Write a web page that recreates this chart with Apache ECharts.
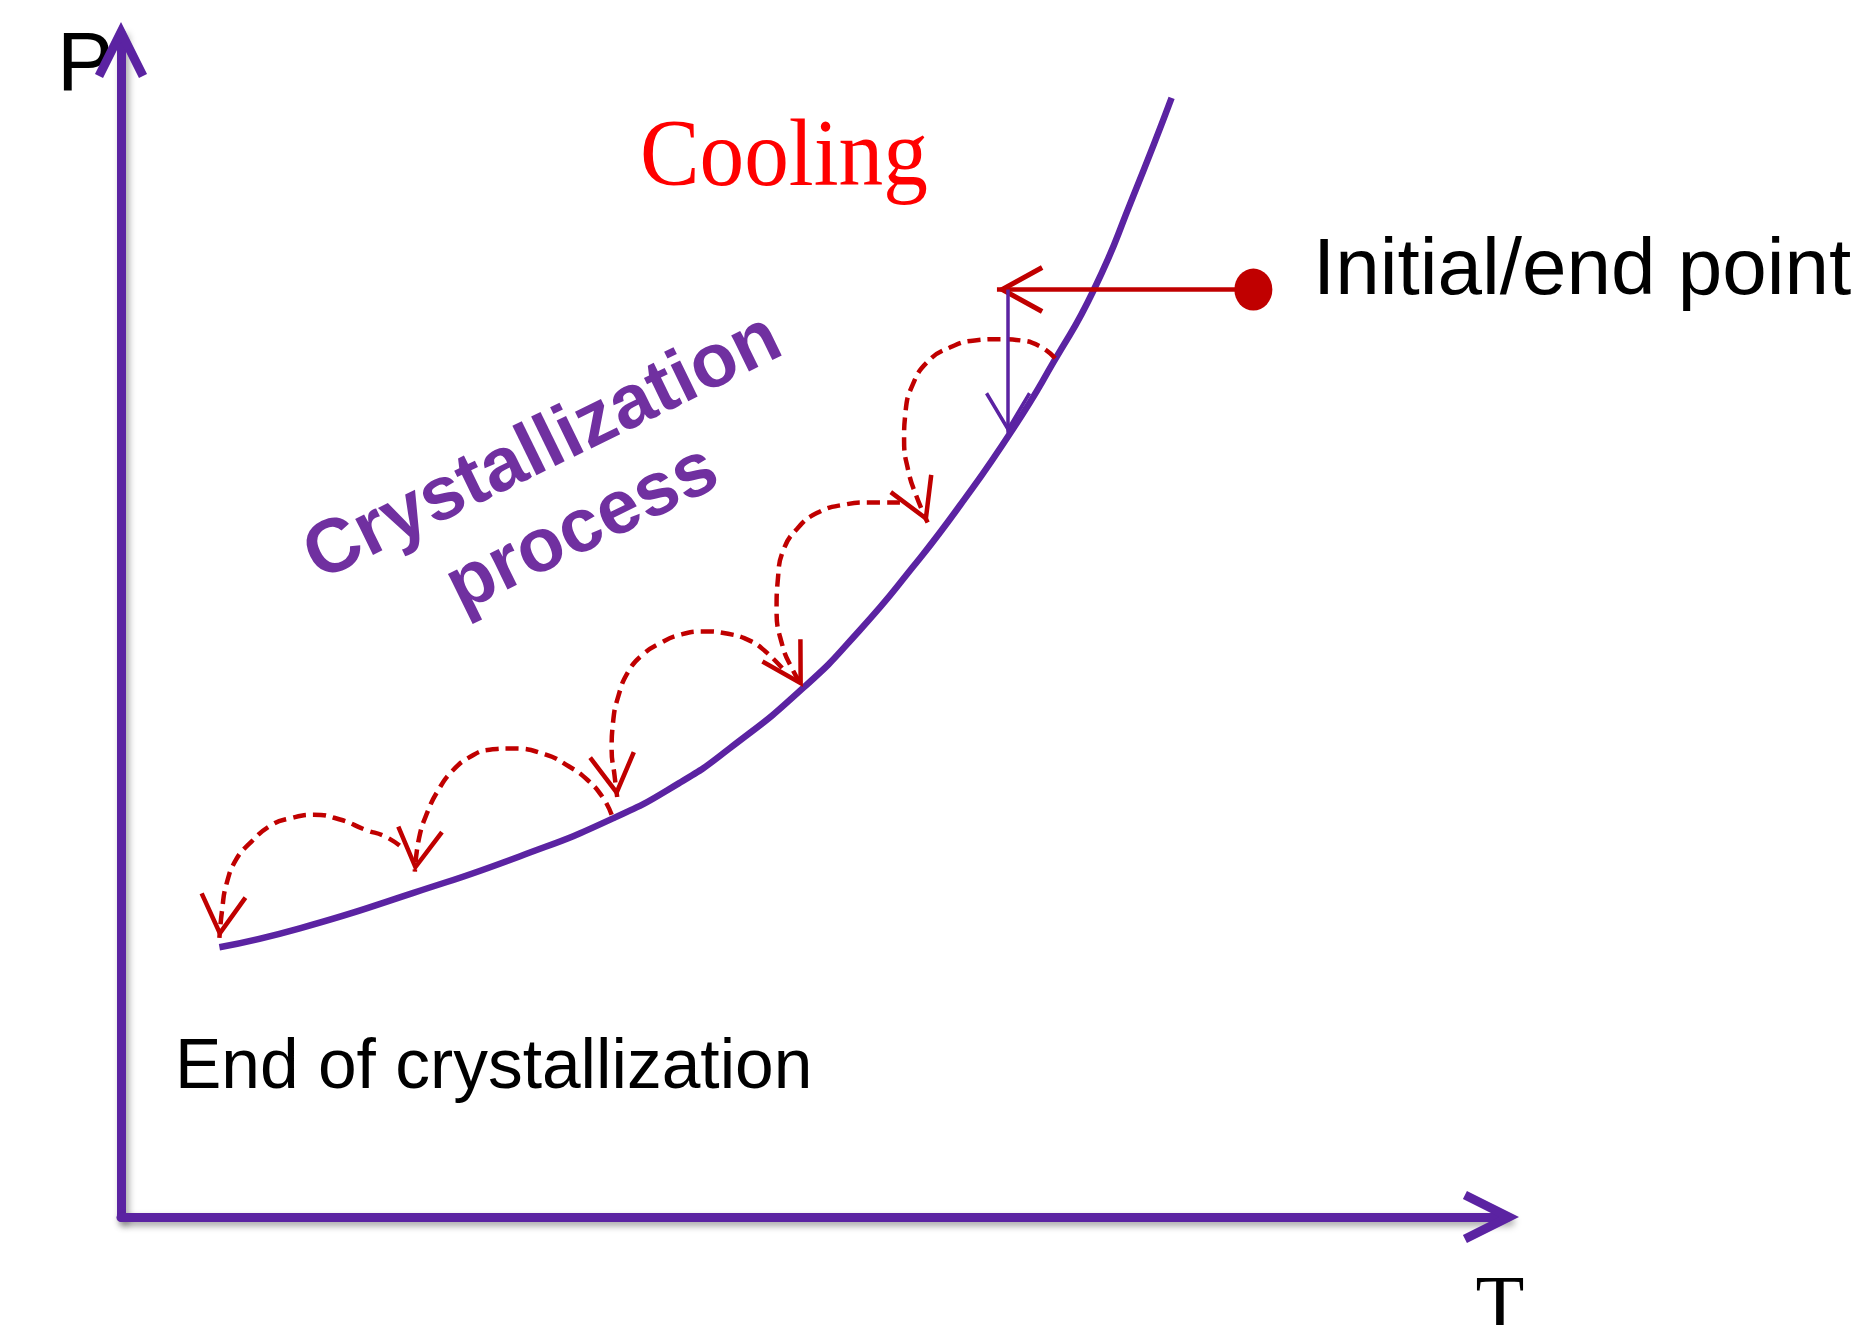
<!DOCTYPE html>
<html>
<head>
<meta charset="utf-8">
<title>Crystallization P-T diagram</title>
<script src="https://cdn.jsdelivr.net/npm/echarts@6/dist/echarts.min.js"></script>
<style>
  html, body { margin: 0; padding: 0; background: #fff; }
  #chart { width: 1861px; height: 1325px; }
</style>
</head>
<body>
<div id="chart"></div>
<script>
// equilibrium curve, T and P in arbitrary units (0-100)
const curveT = [7.1, 12.9, 21.1, 28.8, 35.5, 40.3, 43.9, 49.2, 53.3, 57.1, 60.5, 64.4, 67.3, 70.2, 73.0, 75.8];
const curveP = [22.8, 24.4, 27.4, 30.5, 33.7, 36.7, 39.6, 44.7, 49.6, 54.9, 60.1, 66.7, 72.3, 78.4, 86.2, 94.6];

// initial / end point and the two solid arrows leaving it
const initialPoint = [81.7, 78.4];
const coolingArrow = [[81.7, 78.4], [63.2, 78.4]];
const dropArrow = [[64.0, 78.4], [64.0, 66.3]];

// dashed jumps along the curve, each ends in an arrow head
const jumpArc1 = [[67.4, 72.6], [66.3, 73.6], [64.9, 74.1], [63.4, 74.2], [61.6, 74.1], [59.8, 73.5], [58.2, 72.3],
  [57.1, 70.3], [56.6, 68.0], [56.5, 65.7], [56.8, 63.1], [57.4, 60.9], [58.2, 58.7]];
const jumpArc2 = [[56.2, 60.4], [54.0, 60.4], [52.1, 60.2], [50.2, 59.5], [48.8, 58.2], [47.8, 56.4], [47.4, 54.0],
  [47.3, 51.3], [47.7, 48.4], [48.4, 46.4], [49.2, 44.8]];
const jumpArc3 = [[47.7, 46.4], [46.5, 47.8], [45.4, 48.7], [43.8, 49.3], [42.0, 49.5], [40.3, 49.2], [38.9, 48.5],
  [37.6, 47.5], [36.6, 46.1], [35.9, 44.1], [35.5, 41.8], [35.4, 39.5], [35.6, 37.4], [35.8, 35.5]];
const jumpArc4 = [[35.4, 34.0], [34.8, 35.4], [33.7, 36.9], [32.3, 38.1], [30.6, 39.1], [28.3, 39.6], [26.6, 39.5],
  [25.2, 38.9], [23.9, 37.7], [22.9, 36.1], [22.1, 34.2], [21.5, 32.0], [21.2, 29.2]];
const jumpArc5 = [[20.1, 31.4], [19.0, 32.2], [17.7, 32.7], [15.8, 33.6], [13.9, 34.0], [12.2, 33.7], [10.8, 33.1],
  [9.3, 31.6], [8.3, 30.2], [7.6, 28.1], [7.3, 26.0], [7.1, 23.6]];
const jumpArcs = [jumpArc1, jumpArc2, jumpArc3, jumpArc4, jumpArc5];

const PURPLE = '#5B23A2';
const PURPLE_TEXT = '#7030A0';
const DARK_RED = '#C00000';

// open "V" arrow head as a filled path, tip sitting in the centre of its box
function chevron(w, h, t) {
  const len = Math.hypot(w / 2, h);
  const dx = (w / 2) / len, dy = h / len;
  const a = t / 2;
  const s0 = a / dx;
  const f = n => n.toFixed(2);
  const bx = w / 2 + a * dy, by = h - a * dx + s0;
  const cx = w / 2 - a * dy, cy = h + a * dx + s0;
  const H = cy;
  const path = 'path://M0,' + f(-H) +
    ' M0,0 L' + f(bx) + ',' + f(by) + ' L' + f(cx) + ',' + f(cy) +
    ' L0,' + f(2 * s0) + ' L' + f(-cx) + ',' + f(cy) + ' L' + f(-bx) + ',' + f(by) + ' Z';
  return { path: path, size: [w + 2 * a * dy, 2 * H] };
}

const axisHead = chevron(44, 44, 9);
const arcHead = chevron(44, 38, 4.5);
const coolHead = chevron(44, 40, 5);
const dropHead = chevron(43, 36, 3.5);

const axisLineStyle = {
  color: PURPLE,
  width: 9,
  shadowColor: 'rgba(0,0,0,0.35)',
  shadowBlur: 7,
  shadowOffsetX: 3,
  shadowOffsetY: 4
};

const chart = echarts.init(document.getElementById('chart'));

const series = [
  {
    type: 'line',
    data: curveT.map((t, i) => [t, curveP[i]]),
    smooth: 0.55,
    showSymbol: false,
    symbol: 'none',
    lineStyle: { color: PURPLE, width: 6.5 },
    z: 3
  }
];

jumpArcs.forEach(arc => {
  series.push({
    type: 'line',
    data: arc,
    smooth: 0.5,
    showSymbol: false,
    symbol: 'none',
    lineStyle: { color: DARK_RED, width: 4.5, type: [13, 7] },
    z: 4
  });
});

series.push(
  {
    // arrow heads of the dashed jumps
    type: 'lines',
    coordinateSystem: 'cartesian2d',
    data: jumpArcs.map(arc => ({ coords: arc.slice(-2) })),
    symbol: ['none', arcHead.path],
    symbolSize: [1, arcHead.size],
    lineStyle: { color: DARK_RED, width: 0, opacity: 1 },
    z: 5
  },
  {
    type: 'lines',
    coordinateSystem: 'cartesian2d',
    data: [{ coords: coolingArrow }],
    symbol: ['none', coolHead.path],
    symbolSize: [1, coolHead.size],
    lineStyle: { color: DARK_RED, width: 4.5, opacity: 1 },
    z: 6
  },
  {
    type: 'lines',
    coordinateSystem: 'cartesian2d',
    data: [{ coords: dropArrow }],
    symbol: ['none', dropHead.path],
    symbolSize: [1, dropHead.size],
    lineStyle: { color: PURPLE, width: 3.5, opacity: 1 },
    z: 6
  },
  {
    type: 'scatter',
    data: [initialPoint],
    symbol: 'circle',
    symbolSize: [38, 42],
    itemStyle: { color: DARK_RED, opacity: 1 },
    z: 7
  }
);

function label(x, y, text, font, fill, align, extra) {
  return Object.assign({
    type: 'text',
    x: x,
    y: y,
    silent: true,
    style: {
      text: text,
      font: font,
      fill: fill,
      align: align,
      textAlign: align,
      verticalAlign: 'middle',
      textVerticalAlign: 'middle'
    }
  }, extra || {});
}

const SANS = '"Liberation Sans", Arial, sans-serif';
const SERIF = '"Liberation Serif", "Times New Roman", serif';

chart.setOption({
  animation: false,
  backgroundColor: '#ffffff',
  grid: { left: 121, right: 354, top: 34, bottom: 108 },
  xAxis: {
    type: 'value',
    min: 0,
    max: 100,
    axisLine: {
      show: true,
      symbol: ['none', axisHead.path],
      symbolSize: axisHead.size,
      symbolOffset: [0, 12],
      lineStyle: axisLineStyle
    },
    axisTick: { show: false },
    axisLabel: { show: false },
    splitLine: { show: false }
  },
  yAxis: {
    type: 'value',
    min: 0,
    max: 100,
    axisLine: {
      show: true,
      symbol: ['none', axisHead.path],
      symbolSize: axisHead.size,
      symbolOffset: [0, 12],
      lineStyle: axisLineStyle
    },
    axisTick: { show: false },
    axisLabel: { show: false },
    splitLine: { show: false }
  },
  graphic: [
    label(57, 67, 'P', '84px ' + SANS, '#000', 'left'),
    label(1500, 1310, 'T', '80px ' + SERIF, '#000', 'center'),
    label(640, 160, 'Cooling', '95px ' + SERIF, '#FF0000', 'left', { scaleX: 0.94 }),
    label(1313, 272, 'Initial/end point', '80px ' + SANS, '#000', 'left'),
    label(175, 1069, 'End of crystallization', '69.5px ' + SANS, '#000', 'left'),
    {
      type: 'text',
      x: 563,
      y: 489,
      rotation: 0.454,
      silent: true,
      style: {
        text: 'Crystallization\nprocess',
        font: 'bold 76px ' + SANS,
        fill: PURPLE_TEXT,
        lineHeight: 90,
        align: 'center',
        textAlign: 'center',
        verticalAlign: 'middle',
        textVerticalAlign: 'middle'
      }
    }
  ],
  series: series
});
</script>
</body>
</html>
